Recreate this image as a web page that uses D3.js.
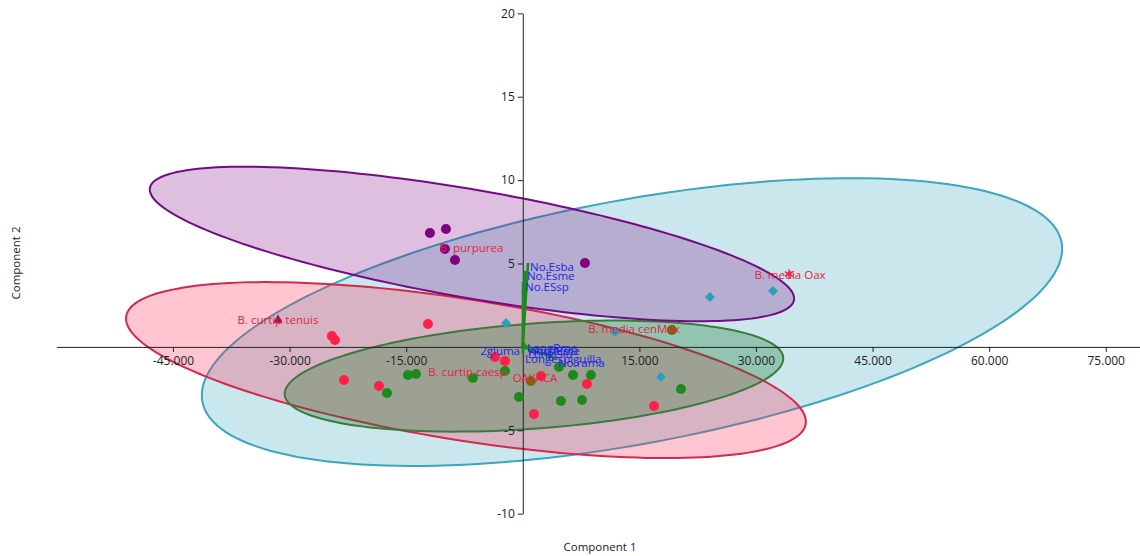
<!DOCTYPE html>
<html><head><meta charset="utf-8">
<script src="https://cdn.jsdelivr.net/npm/d3@7"></script>
<style>
html,body{margin:0;padding:0;background:#fff;}
svg{display:block;font-family:"Open Sans","Noto Sans",sans-serif;}
</style></head><body>
<svg id="chart" width="1140" height="556"></svg>
<script>
// ---------- axes ----------
const xTicks = [-45, -30, -15, 15, 30, 45, 60, 75];
const yTicks = [-10, -5, 5, 10, 15, 20];
const xTitle = "Component 1";
const yTitle = "Component 2";

// ---------- PCA scores per group ----------
const purpureaX = [-11.94, -9.88, -10.01, -8.72, 8.00];
const purpureaY = [6.83, 7.07, 5.87, 5.21, 5.03];

const mediaX = [-2.16, 11.86, 24.08, 32.19, 17.78];
const mediaY = [1.43, 0.89, 2.99, 3.35, -1.80];

const curtipX = [-24.55, -24.16, -12.20, -23.00, -18.50, -3.58, -2.29, 2.34, 8.26, 1.44, 16.88];
const curtipY = [0.65, 0.41, 1.37, -1.98, -2.34, -0.61, -0.85, -1.74, -2.22, -4.02, -3.54];

const caespX = [-14.77, -13.74, -17.47, -6.41, -2.29, 4.66, 6.46, 8.77, -0.49, 4.91, 7.62, 20.35];
const caespY = [-1.68, -1.62, -2.76, -1.86, -1.44, -1.21, -1.68, -1.68, -3.00, -3.24, -3.18, -2.52];

const cenMexX = [19.19, 1.05];
const cenMexY = [1.01, -2.04];

const tenuisX = [-31.49];
const tenuisY = [1.61];

const oaxX = [34.25];
const oaxY = [4.37];

// ---------- group ellipses: centre and two conjugate semi-axes ----------
const ellipseNames = ["media", "curtipendula", "caespitosa", "purpurea"];
const ellipseCx = [14.05, -7.31, 1.44, -6.54];
const ellipseCy = [1.49, -1.39, -1.75, 6.17];
const ellipseAx = [55.27, 43.71, 32.07, 41.43];
const ellipseAy = [4.77, -3.23, 1.11, -3.36];
const ellipseBx = [2.86, 1.42, 0.50, 1.19];
const ellipseBy = [-7.19, 4.17, -3.14, 3.19];

// ---------- group labels ----------
const groupLabels = ["B. curtip tenuis", "B. purpurea", "B. media Oax", "B. media cenMex", "B. curtip caesp", "OAXACA"];
const groupLabelX = [-31.49, -6.60, 34.38, 14.31, -7.11, 1.57];
const groupLabelY = [1.61, 5.93, 4.31, 1.07, -1.50, -1.86];

// ---------- loadings (biplot vectors) ----------
const loadingNames = ["No.Esba", "No.Esme", "No.ESsp", "2gluma", "LongPme", "AnchPme", "LongGlu", "AnchGlu", "Longespiguilla", "No.rama"];
const loadingX = [0.67, 0.28, 0.03, -0.23, 0.28, 0.54, 0.41, 1.05, 0.03, 4.27];
const loadingY = [5.03, 4.55, 3.89, 0.05, 0.23, 0.05, -0.13, 0.00, -0.43, -0.67];

// ---------- drawing ----------
const svg = d3.select("#chart");

const x = d3.scaleLinear().domain([-60, 80]).range([56.4, 1144.6]);
const y = d3.scaleLinear().domain([-10, 20]).range([513.7, 13.3]);

const ellipseStyle = {
  media:        {fill: "rgba(60,170,190,0.28)",  stroke: "#3ba6bd"},
  curtipendula: {fill: "rgba(255,40,80,0.27)",   stroke: "#d4284c"},
  caespitosa:   {fill: "rgba(20,120,40,0.30)",   stroke: "#3b7a3b"},
  purpurea:     {fill: "rgba(128,0,128,0.25)",   stroke: "#750a85"}
};

const line = d3.line().x(d => x(d[0])).y(d => y(d[1])).curve(d3.curveLinearClosed);
const gEll = svg.append("g");
ellipseNames.forEach((name, i) => {
  const pts = d3.range(0, 180).map(k => {
    const t = k / 180 * 2 * Math.PI;
    return [ellipseCx[i] + Math.cos(t) * ellipseAx[i] + Math.sin(t) * ellipseBx[i],
            ellipseCy[i] + Math.cos(t) * ellipseAy[i] + Math.sin(t) * ellipseBy[i]];
  });
  gEll.append("path")
    .attr("d", line(pts))
    .attr("fill", ellipseStyle[name].fill)
    .attr("stroke", ellipseStyle[name].stroke)
    .attr("stroke-width", 2);
});

// axes through the origin
const xAxis = d3.axisBottom(x).tickValues(xTicks).tickFormat(d => d.toFixed(3))
  .tickSize(5).tickSizeOuter(0).tickPadding(5);
const yAxis = d3.axisLeft(y).tickValues(yTicks).tickFormat(d => String(d))
  .tickSize(5).tickSizeOuter(0).tickPadding(3);

const gx = svg.append("g").attr("transform", `translate(0,${y(0)})`).call(xAxis);
const gy = svg.append("g").attr("transform", `translate(${x(0)},0)`).call(yAxis);
[gx, gy].forEach(g => {
  g.select(".domain").attr("stroke", "#222");
  g.selectAll(".tick line").attr("stroke", "#222");
  g.selectAll(".tick text").attr("fill", "#222").attr("font-size", 12)
    .attr("font-family", "'Open Sans','Noto Sans',sans-serif");
});

// biplot vectors
const gVec = svg.append("g");
loadingNames.forEach((n, i) => {
  gVec.append("line")
    .attr("x1", x(0)).attr("y1", y(0))
    .attr("x2", x(loadingX[i])).attr("y2", y(loadingY[i]))
    .attr("stroke", "#1d8a1d").attr("stroke-width", 2.5);
});

// points
const circleGroups = [
  [purpureaX, purpureaY, "#800080"],
  [curtipX, curtipY, "#ff1f48"],
  [caespX, caespY, "#1e8a1e"],
  [cenMexX, cenMexY, "#7d6410"]
];
const gPts = svg.append("g");
circleGroups.forEach(([xs, ys, col]) => {
  xs.forEach((v, i) => {
    gPts.append("circle").attr("cx", x(v)).attr("cy", y(ys[i])).attr("r", 5).attr("fill", col);
  });
});
mediaX.forEach((v, i) => {
  gPts.append("path")
    .attr("d", d3.symbol(d3.symbolSquare, 50)())
    .attr("transform", `translate(${x(v)},${y(mediaY[i])}) rotate(45)`)
    .attr("fill", "#2b9fbb");
});
tenuisX.forEach((v, i) => {
  gPts.append("path")
    .attr("d", d3.symbol(d3.symbolTriangle, 40)())
    .attr("transform", `translate(${x(v)},${y(tenuisY[i])})`)
    .attr("fill", "#9a0a5a");
});
oaxX.forEach((v, i) => {
  gPts.append("path")
    .attr("d", d3.symbol(d3.symbolAsterisk, 60)())
    .attr("transform", `translate(${x(v)},${y(oaxY[i])})`)
    .attr("fill", "none").attr("stroke", "#ff1f48").attr("stroke-width", 1.5);
});

// group labels
const gLab = svg.append("g").attr("font-size", 11.5).attr("fill", "#e3233f");
groupLabels.forEach((t, i) => {
  gLab.append("text")
    .attr("x", x(groupLabelX[i])).attr("y", y(groupLabelY[i]))
    .attr("dy", "0.35em").attr("text-anchor", "middle").text(t);
});

// loading labels at vector tips
const gLoad = svg.append("g").attr("font-size", 11.5).attr("fill", "#2424e8");
loadingNames.forEach((t, i) => {
  const left = loadingX[i] < 0;
  gLoad.append("text")
    .attr("x", x(loadingX[i]) + (left ? -1 : 2))
    .attr("y", y(loadingY[i]) + 8.5)
    .attr("text-anchor", left ? "end" : "start")
    .text(t);
});

// axis titles
svg.append("text").attr("x", 600).attr("y", 551).attr("text-anchor", "middle")
  .attr("font-size", 11.5).attr("fill", "#222").text(xTitle);
svg.append("text").attr("transform", "translate(20,263) rotate(-90)").attr("text-anchor", "middle")
  .attr("font-size", 11.5).attr("fill", "#222").text(yTitle);
</script>
</body></html>
